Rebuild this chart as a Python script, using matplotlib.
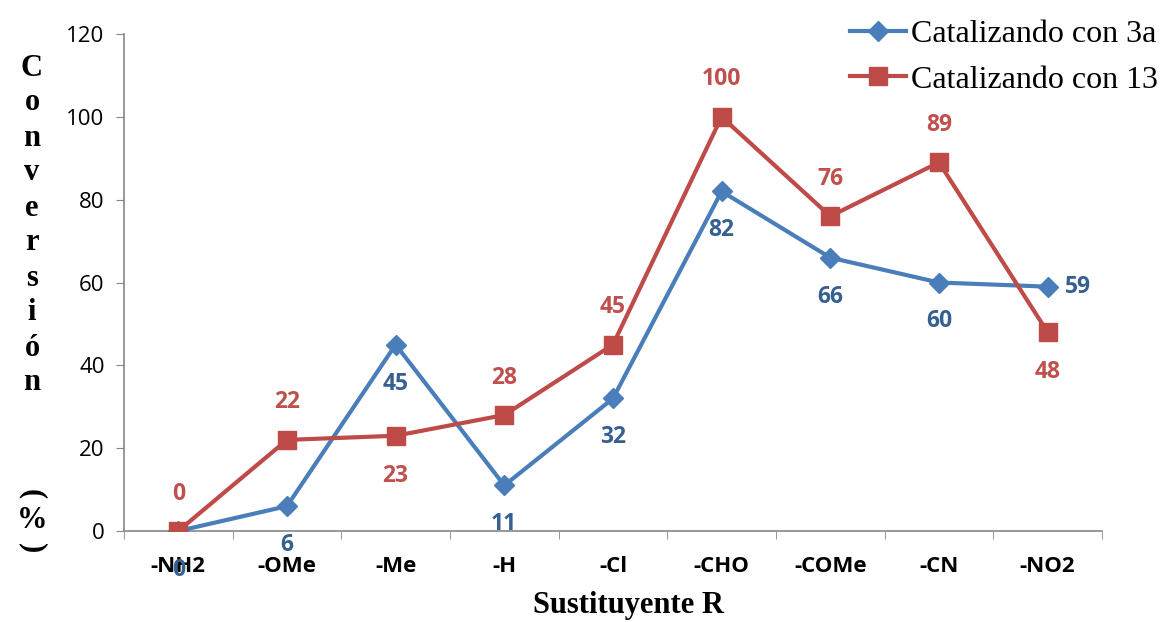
import numpy as np
import matplotlib.pyplot as plt

# data
categories = ["-NH2", "-OMe", "-Me", "-H", "-Cl", "-CHO", "-COMe", "-CN", "-NO2"]
conv_3a = [0, 6, 45, 11, 32, 82, 66, 60, 59]
conv_13 = [0, 22, 23, 28, 45, 100, 76, 89, 48]
y_ticks = [0, 20, 40, 60, 80, 100, 120]

# label placement: (dx, dy) in points, per point
offs_3a = [(0, -28), (0, -28), (0, -28), (0, -28), (0, -28), (0, -28), (0, -28), (0, -28), (22, 0)]
offs_13 = [(0, 27), (0, 27), (0, -29), (0, 27), (0, 27), (0, 27), (0, 27), (0, 27), (0, -29)]

blue = "#4A7EBB"
red = "#BE4B48"
blue_lbl = "#376092"
red_lbl = "#C0504D"
axis_grey = "#868686"

fig = plt.figure(figsize=(11.64, 6.22), dpi=100)
ax = fig.add_axes([0.1065, 0.1463, 0.8402, 0.799])

x = np.arange(len(categories))
ax.plot(x, conv_3a, color=blue, lw=3, marker="D", ms=10, mec=blue, mfc=blue,
        label="Catalizando con 3a", zorder=3)
ax.plot(x, conv_13, color=red, lw=3, marker="s", ms=13, mec=red, mfc=red,
        label="Catalizando con 13", zorder=3)

for xi, v, (dx, dy) in zip(x, conv_3a, offs_3a):
    ax.annotate(str(v), (xi, v), xytext=(dx, dy), textcoords="offset points",
                ha="center", va="center", color=blue_lbl, fontsize=16.5,
                fontweight="bold", family="Open Sans", zorder=4)
for xi, v, (dx, dy) in zip(x, conv_13, offs_13):
    ax.annotate(str(v), (xi, v), xytext=(dx, dy), textcoords="offset points",
                ha="center", va="center", color=red_lbl, fontsize=16.5,
                fontweight="bold", family="Open Sans", zorder=4)

ax.set_xlim(-0.5, len(categories) - 0.5)
ax.set_ylim(0, 120)
ax.set_yticks(y_ticks)
ax.set_yticklabels([str(t) for t in y_ticks], family="Open Sans", fontsize=16)
ax.set_xticks(x)
ax.set_xticklabels(categories, family="Open Sans", fontsize=16, fontweight="bold")
ax.tick_params(axis="x", length=0, pad=18)
ax.set_xticks(np.arange(len(categories) + 1) - 0.5, minor=True)
ax.tick_params(axis="x", which="minor", length=6, color=axis_grey, direction="out")
ax.tick_params(axis="y", length=6, color=axis_grey, direction="out", pad=8)

for s in ["top", "right"]:
    ax.spines[s].set_visible(False)
for s in ["left", "bottom"]:
    ax.spines[s].set_color(axis_grey)
    ax.spines[s].set_linewidth(1.2)

ax.set_xlabel("Sustituyente R", family="Liberation Serif", fontsize=22,
              fontweight="bold", va="center")
ax.xaxis.set_label_coords(0.516, -0.149)

# stacked y label
letters = ["C", "o", "n", "v", "e", "r", "s", "i", "ó", "n"]
for i, ch in enumerate(letters):
    fig.text(32 / 1164, 1 - (68 + i * 35) / 622, ch, ha="center", va="center",
             family="Liberation Serif", fontsize=22, fontweight="bold")
fig.text(32 / 1164, 1 - 494 / 622, "(", ha="center", va="center", rotation=-90,
         family="Liberation Serif", fontsize=22, fontweight="bold")
fig.text(32 / 1164, 1 - 520 / 622, "%", ha="center", va="center",
         family="Liberation Serif", fontsize=22, fontweight="bold")
fig.text(32 / 1164, 1 - 548 / 622, ")", ha="center", va="center", rotation=-90,
         family="Liberation Serif", fontsize=22, fontweight="bold")

leg = ax.legend(loc="upper right", bbox_to_anchor=(1.07, 1.054), frameon=False,
                prop={"family": "Liberation Serif", "size": 23},
                handlelength=1.75, handletextpad=0.15, labelspacing=0.5,
                borderaxespad=0)

fig.savefig("out.png", dpi=100)
